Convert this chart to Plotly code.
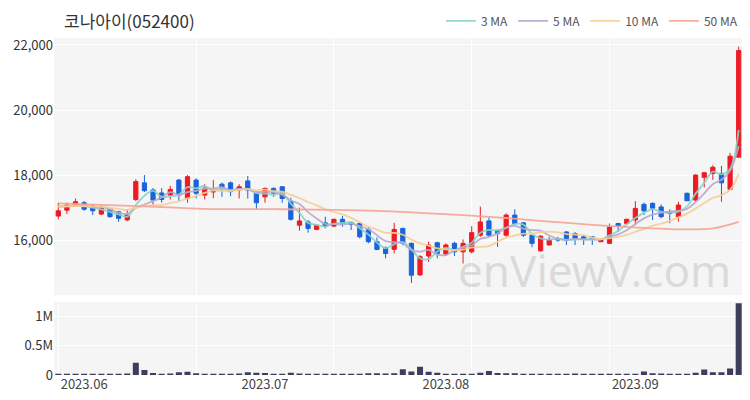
import numpy as np
import pandas as pd
import plotly.graph_objects as go

# ---------------- data ----------------
holidays = ["2023-05-29", "2023-06-06", "2023-08-15"]
dates = [d for d in pd.bdate_range("2023-05-26", "2023-09-19").strftime("%Y-%m-%d") if d not in holidays]

opens = [16740, 16920, 17050, 17150, 17050, 16800, 16950, 16870, 16620, 17250,
         17760, 17540, 17450, 17385, 17846, 17280, 17846, 17385, 17480, 17720,
         17760, 17540, 17820, 17450, 17330, 17590, 17640, 17200, 16460, 16560,
         16330, 16530, 16430, 16640, 16545, 16510, 16330, 15950, 15775, 15715,
         16360, 15900, 14930, 15510, 15920, 15570, 15900, 15640, 15640, 16150,
         16590, 16300, 16150, 16770, 16530, 16150, 15670, 15850, 16050, 16250,
         16200, 16100, 16100, 15950, 15900, 16510, 16510, 16620, 17100, 17130,
         17020, 16870, 16720, 17440, 17230, 17930, 18050, 18050, 17560, 18550]
highs = [17150, 17150, 17280, 17200, 17080, 17110, 16980, 16900, 16950, 17870,
         18000, 17600, 17600, 17670, 17880, 18000, 17900, 17720, 17846, 17770,
         17800, 17720, 17970, 17500, 17620, 17620, 17660, 17300, 17000, 16620,
         16490, 16720, 16660, 16740, 16560, 16540, 16400, 16080, 15800, 16530,
         16380, 15930, 15540, 15950, 15950, 15900, 15950, 16020, 16430, 17030,
         16690, 16320, 16820, 16950, 16560, 16150, 16150, 16100, 16100, 16280,
         16250, 16150, 16120, 16040, 16510, 16530, 16660, 17200, 17150, 17160,
         17100, 16950, 17180, 17460, 18020, 18100, 18300, 18280, 18680, 21950]
lows = [16640, 16800, 17020, 16900, 16770, 16770, 16690, 16560, 16580, 17200,
        17480, 17080, 17150, 17250, 17200, 17150, 17280, 17250, 17290, 17330,
        17350, 17280, 17280, 16950, 17150, 17330, 17150, 16600, 16290, 16230,
        16300, 16360, 16400, 16410, 16310, 16050, 15900, 15690, 15440, 15590,
        15840, 14680, 14900, 15330, 15440, 15510, 15510, 15280, 15590, 16100,
        16100, 15790, 16100, 16460, 16100, 15780, 15640, 15840, 15950, 15850,
        15850, 15850, 15850, 15940, 15900, 16250, 16480, 16460, 16770, 16620,
        16670, 16520, 16570, 17200, 17200, 17620, 17850, 17180, 17540, 18550]
closes = [16900, 17080, 17180, 16950, 16900, 16980, 16720, 16670, 16770, 17800,
          17520, 17230, 17250, 17560, 17385, 17950, 17440, 17600, 17540, 17600,
          17490, 17640, 17540, 17150, 17590, 17440, 17280, 16640, 16590, 16360,
          16460, 16430, 16640, 16510, 16480, 16100, 15950, 15715, 15590, 16330,
          15900, 14920, 15490, 15850, 15590, 15850, 15640, 15900, 16230, 16560,
          16150, 16200, 16770, 16510, 16150, 15900, 16120, 16020, 16000, 16000,
          16050, 16020, 16020, 16020, 16400, 16430, 16640, 16975, 16900, 16980,
          16720, 16820, 17080, 17210, 18000, 18070, 18240, 17760, 18580, 21830]
# closes of the days just before the window (needed for the short moving averages)
prior_closes = [17050, 17100, 17000, 16950, 17050, 17100, 17000, 17050, 17150]

volumes = [18, 15, 17, 14, 16, 15, 14, 15, 25, 210,
           85, 35, 22, 25, 45, 55, 30, 22, 20, 18,
           20, 25, 45, 40, 35, 18, 20, 40, 25, 18,
           15, 12, 10, 8, 10, 15, 30, 28, 25, 30,
           100, 60, 143, 55, 40, 22, 18, 20, 22, 40,
           70, 35, 30, 32, 15, 22, 20, 10, 12, 8,
           25, 22, 10, 20, 22, 18, 15, 20, 60, 30,
           25, 18, 15, 15, 40, 95, 45, 45, 110, 1230]  # thousands of shares

# 50-day moving average at a few days
ma50_pos = [0, 10, 17, 25, 32, 37, 42, 47, 52, 57, 62, 65, 72, 76, 79]
ma50_val = [17130, 17040, 16960, 16950, 16930, 16900, 16840, 16770, 16680,
            16570, 16470, 16420, 16330, 16360, 16560]

ma_names = ["3 MA", "5 MA", "10 MA", "50 MA"]
ma_colors = ["#86d6c9", "#b9a9cc", "#f6cf95", "#f5a494"]
title_text = "코나아이(052400)"

# ---------------- build ----------------
x = np.arange(len(dates))
allc = pd.Series(prior_closes + closes)
ma = {n: allc.rolling(n).mean().to_numpy()[len(prior_closes):] for n in (3, 5, 10)}

month_pos = [i for i in range(1, len(dates)) if dates[i][5:7] != dates[i - 1][5:7]]
month_txt = [dates[p][:7].replace("-", ".") for p in month_pos]

RED = "#ee1c25"
BLUE = "#1b64da"
FONT = "Noto Sans CJK KR"

fig = go.Figure()
fig.add_trace(go.Candlestick(
    x=x, open=opens, high=highs, low=lows, close=closes,
    increasing=dict(line=dict(color=RED, width=1), fillcolor=RED),
    decreasing=dict(line=dict(color=BLUE, width=1), fillcolor=BLUE),
    showlegend=False, xaxis="x", yaxis="y", hoverinfo="skip"))

for n, name, col in zip((3, 5, 10), ma_names[:3], ma_colors[:3]):
    fig.add_trace(go.Scatter(x=x, y=ma[n], mode="lines", name=name,
                             line=dict(color=col, width=1.8, shape="spline"),
                             opacity=0.9, xaxis="x", yaxis="y"))
fig.add_trace(go.Scatter(x=ma50_pos, y=ma50_val, mode="lines", name=ma_names[3],
                         line=dict(color=ma_colors[3], width=1.8, shape="spline"),
                         opacity=0.9, xaxis="x", yaxis="y"))

fig.add_trace(go.Bar(x=x, y=[v * 1000 for v in volumes], marker=dict(color="#3d3d5c", line=dict(width=0)),
                     width=0.7, showlegend=False, xaxis="x2", yaxis="y2"))

xr = [-0.5, len(dates) - 0.5]
common_x = dict(range=xr, showgrid=False, zeroline=False, showline=False, automargin=False,
                minor=dict(tick0=0, dtick=16, showgrid=True, gridcolor="#ffffff", gridwidth=1, ticks=""))
# the page body has an 8px margin, so the figure is a bit smaller than the window
fig.update_layout(
    width=742, height=392,
    margin=dict(l=46, r=7, t=30, b=25),
    paper_bgcolor="#ffffff", plot_bgcolor="#f5f5f5",
    font=dict(family=FONT, size=12, color="#333333"),
    showlegend=True,
    legend=dict(orientation="h", x=1.0, xanchor="right", xref="paper",
                y=0.967, yanchor="middle", yref="container",
                font=dict(size=12, color="#555555"), bgcolor="rgba(0,0,0,0)",
                itemwidth=30, tracegroupgap=0),
    xaxis=dict(**common_x, domain=[0, 1], anchor="y", showticklabels=False,
               rangeslider=dict(visible=False)),
    xaxis2=dict(**common_x, domain=[0, 1], anchor="y2", tickmode="array",
                tickvals=month_pos, ticktext=month_txt, ticks="",
                tickfont=dict(size=13, color="#444444")),
    yaxis=dict(domain=[0.237, 1], range=[14308, 22215], tickmode="array",
               tickvals=[16000, 18000, 20000, 22000], tickformat=",",
               gridcolor="#ffffff", gridwidth=1, zeroline=False, ticks="", automargin=False,
               tickfont=dict(size=13, color="#333333")),
    yaxis2=dict(domain=[0, 0.217], range=[0, 1.252e6], tickmode="array",
                tickvals=[0, 500000, 1000000], ticktext=["0", "0.5M", "1M"],
                gridcolor="#ffffff", gridwidth=1, zeroline=False, ticks="", automargin=False,
                tickfont=dict(size=13, color="#333333")),
    bargap=0.3,
)

fig.add_annotation(text=title_text, xref="paper", yref="paper", x=0.0116, y=1.053,
                   xanchor="left", yanchor="middle", showarrow=False,
                   font=dict(family=FONT, size=17, color="#333333"))
fig.add_annotation(text="enViewV.com", xref="paper", yref="paper", x=0.785, y=0.312,
                   xanchor="center", yanchor="middle", showarrow=False,
                   font=dict(family="Noto Sans", size=44, color="rgba(160,160,160,0.33)"))

fig.write_html("out.html")
